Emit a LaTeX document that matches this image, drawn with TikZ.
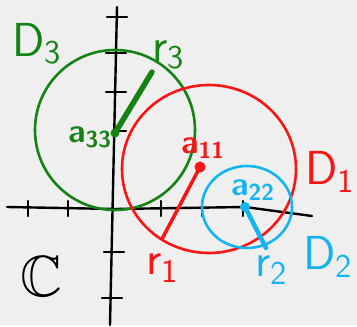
\documentclass[tikz,border=0pt]{standalone}
\usepackage{amssymb}
\usepackage{fontspec}
\usetikzlibrary{positioning}
\definecolor{cBg}{RGB}{239,239,239}
\definecolor{cGreen}{RGB}{20,130,20}
\definecolor{cRed}{RGB}{250,20,20}
\definecolor{cBlue}{RGB}{20,180,240}
\tikzset{
  axisline/.style={line width=2.4pt,line cap=round,line join=round,black},
  tickmark/.style={line width=2.2pt,line cap=round,black},
  disc/.style={line width=2.6pt},
  rline/.style={line width=4.5pt,line cap=round},
  centre/.style={circle,inner sep=0pt,minimum size=11pt},
  biglbl/.style={font=\sffamily\huge,scale=2.3,inner sep=0pt},
  smllbl/.style={font=\sffamily\bfseries\huge,scale=1.6,inner sep=0pt}
}

\begin{document}
\begin{tikzpicture}[x=1pt,y=-1pt]
  \fill[cBg] (0,0) rectangle (357,325);

  % Axes
  \coordinate (xl) at (7,207);
  \coordinate (xr) at (312,216);
  \coordinate (yt) at (117,7);
  \coordinate (yb) at (110,325);
  \draw[axisline] (xl) -- (115,209) -- (245,207) -- (xr);
  \draw[axisline] (yt) -- (yb);
  \foreach \x in {28,68,161,202,243}
    \draw[tickmark] (\x,201) -- (\x,216);
  \foreach \x/\y in {117/17,116/53,116/92,114/252,112/298}
    \draw[tickmark] (\x-10,\y) -- (\x+10,\y);
  \draw[tickmark] (116,131) -- (126,131);

  % Discs
  \draw[disc,cGreen] (115,130) circle [radius=80];
  \draw[disc,cRed] (209,169) ellipse [x radius=87,y radius=84];
  \draw[disc,cBlue] (247,207) ellipse [x radius=45,y radius=41];

  % Centres and radii
  \node[centre,fill=cGreen,minimum size=9pt] (c33) at (115,133) {};
  \node[centre,fill=cRed] (c11) at (200,167) {};
  \node[centre,fill=cBlue,minimum size=10pt] (c22) at (245,207) {};
  \coordinate (e33) at (152,72);
  \coordinate (e11) at (162,239);
  \coordinate (e22) at (266,248);
  \draw[rline,cGreen,line width=5.5pt] (c33.center) -- (e33);
  \draw[rline,cRed,line width=3.5pt] (c11.center) -- (e11);
  \draw[rline,cBlue] (c22.center) -- (e22);

  % Labels
  \node[biglbl,text=cGreen] (d3) at (37,44) {D\textsubscript{3}};
  \node[biglbl,text=cGreen] (r3) at (169,55) {r\textsubscript{3}};
  \node[smllbl,text=cGreen] (a33) at (90,137) {a\textsubscript{33}};
  \node[smllbl,text=cRed] (a11) at (203,148) {a\textsubscript{11}};
  \node[biglbl,text=cRed] (d1) at (330,172) {D\textsubscript{1}};
  \node[biglbl,text=cRed] (r1) at (163,268) {r\textsubscript{1}};
  \node[smllbl,text=cBlue] (a22) at (253,190) {a\textsubscript{22}};
  \node[biglbl,text=cBlue] (r2) at (272,270) {r\textsubscript{2}};
  \node[biglbl,text=cBlue] (d2) at (328,257) {D\textsubscript{2}};
  \node[font=\huge,scale=2.8,inner sep=0pt] (cc) at (41,276) {$\mathbb{C}$};
\end{tikzpicture}
\end{document}
